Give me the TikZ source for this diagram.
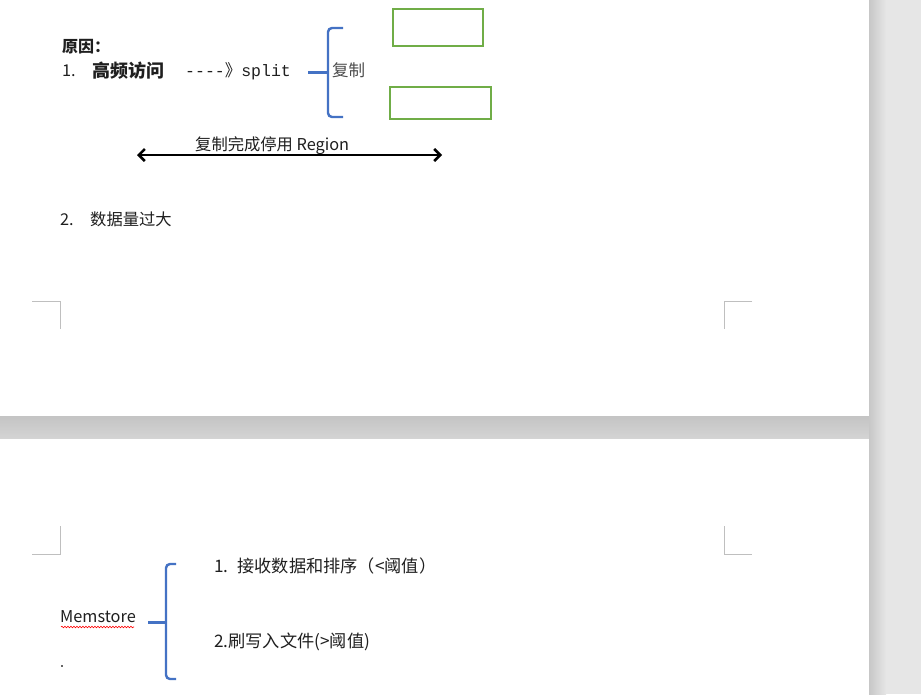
\documentclass[tikz,border=0pt]{standalone}
\usepackage{fontspec}
\setmainfont{Noto Sans CJK SC}
\newfontfamily\cjk{Noto Sans CJK SC}
\newfontfamily\mono{Liberation Mono}
\usetikzlibrary{arrows.meta,decorations.pathmorphing}
\definecolor{pagegray}{HTML}{E6E6E6}
\definecolor{shadow}{HTML}{C4C4C4}
\definecolor{braceblue}{HTML}{4472C4}
\definecolor{boxgreen}{HTML}{70AD47}
\definecolor{mark}{HTML}{BFBFBF}
\tikzset{
  txt/.style={anchor=base west, inner sep=0pt, font=\fontsize{16.3}{16}\selectfont, text=black!88},
  txtb/.style={txt, font=\fontsize{17.2}{17}\selectfont},
  bracepath/.style={draw=braceblue, line width=2.4pt, rounded corners=4pt},
  bracestem/.style={draw=braceblue, line width=3pt},
  greenbox/.style={draw=boxgreen, line width=2pt},
  cornermark/.style={draw=mark, line width=0.8pt},
}
\begin{document}
\begin{tikzpicture}[x=1pt,y=-1pt]
\useasboundingbox (0,0) rectangle (921,694);
% background
\fill[pagegray] (0,0) rectangle (921,694);
\fill[white] (0,0) rectangle (869,416);
\fill[white] (0,438) rectangle (869,694);
\shade[top color=shadow, bottom color=black!17] (0,416) rectangle (869,438);
\shade[left color=black!22, right color=pagegray] (869,0) rectangle (886,694);
% corner marks
\draw[cornermark] (32,301) -- (60,301) -- (60,329);
\draw[cornermark] (752,301) -- (724,301) -- (724,329);
\draw[cornermark] (60,526) -- (60,554) -- (32,554);
\draw[cornermark] (724,526) -- (724,554) -- (752,554);
% page 1 text
\node[txt, font=\fontsize{16}{16}\selectfont\bfseries] (reason) at (62,52) {原因：};
\node[txt] (n1) at (62,76) {1.};
\node[txt, font=\fontsize{18}{18}\selectfont\bfseries] (hf) at (92,77) {高频访问};
\node[txt, font=\fontsize{16.5}{16}\mono] (split) at (185,76) {----{\cjk 》}split};
\coordinate (b1stem) at (308,72);
\coordinate (b1top) at (343,28);
\coordinate (b1bot) at (343,117);
\draw[bracepath] (b1top) -- (328,28) -- (328,117) -- (b1bot);
\draw[bracestem] (b1stem) -- (328,72);
\node[txt, text=black!70, font=\fontsize{16.5}{16}\selectfont] (copy) at (332,76) {复制};
\node[greenbox, minimum width=90pt, minimum height=37pt, anchor=north west, inner sep=0pt] (box1) at (392,8) {};
\node[greenbox, minimum width=101pt, minimum height=32pt, anchor=north west, inner sep=0pt] (box2) at (389,86) {};
\coordinate (arL) at (137,155);
\coordinate (arR) at (442,155);
\draw[line width=2.5pt, {Straight Barb[length=6pt,width=12pt]}-{Straight Barb[length=6pt,width=12pt]}] (arL) -- (arR);
\node[txt] (arlabel) at (195,150) {复制完成停用 Region};
\node[txt] (n2) at (60,225) {2.};
\node[txt] (big) at (90,225) {数据量过大};
% page 2
\node[txt] (mem) at (60,622) {Memstore};
\draw[red, line width=0.6pt, decorate, decoration={snake, amplitude=0.8pt, segment length=3pt}] (61,627) -- (134,627);
\fill[black!60] (61,665) rectangle (62.5,666.5);
\coordinate (b2stem) at (148,622);
\coordinate (b2top) at (176,564);
\coordinate (b2bot) at (176,679);
\draw[bracepath] (b2top) -- (166,564) -- (166,679) -- (b2bot);
\draw[bracestem] (b2stem) -- (166,622);
\node[txtb] (i1) at (214,572) {1.\hspace{9pt}接收数据和排序（<阈值）};
\node[txtb] (i2) at (214,647) {2.刷写入文件(>阈值)};
\end{tikzpicture}
\end{document}
